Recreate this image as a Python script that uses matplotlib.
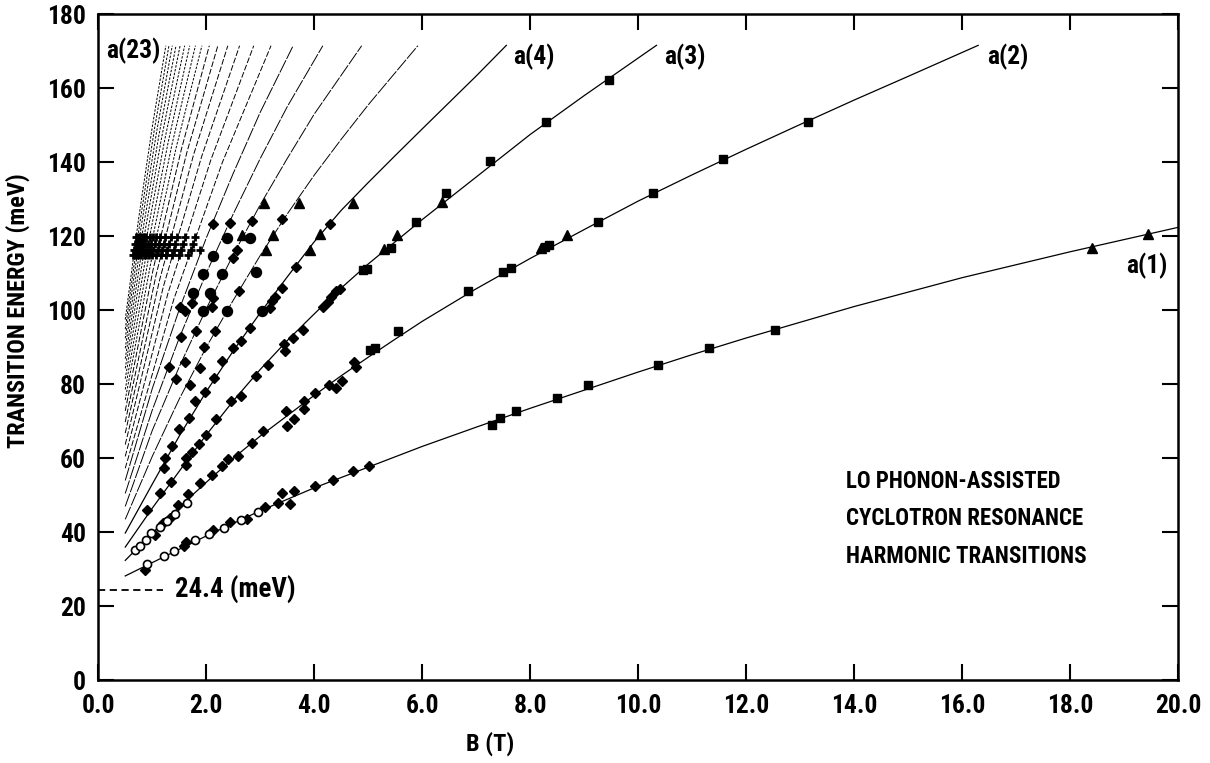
import matplotlib
matplotlib.use("Agg")
import matplotlib.pyplot as plt
from matplotlib import font_manager
from matplotlib.ticker import MultipleLocator, FormatStrFormatter

# pick a narrow bold face if one is installed, otherwise a plain sans
fonts = font_manager.fontManager.ttflist
names = {f.name for f in fonts}
narrow_faces = {'Liberation Sans Narrow': 1.0, 'Roboto Condensed': 0.97, 'Noto Sans Condensed': 0.95,
                'DejaVu Sans Condensed': 0.9, 'Open Sans Condensed': 1.0}
family, FS = 'Liberation Sans', 0.86
for name, scale in narrow_faces.items():
    if name in names:
        family, FS = name, scale
        break
else:
    if any(f.name == 'DejaVu Sans' and f.stretch == 'condensed' for f in fonts):
        family, FS = 'DejaVu Sans', 0.9
        plt.rcParams['font.stretch'] = 'condensed'
plt.rcParams['font.family'] = [family, 'DejaVu Sans']
plt.rcParams['font.weight'] = 'bold'
plt.rcParams['axes.labelweight'] = 'bold'

# --- harmonic curves (B in T, E in meV) ---
a1_B = [0.5, 1.0, 1.5, 2.0, 3.0, 4.0, 5.0, 6.0, 7.0, 8.0, 9.0, 10.0, 11.0, 12.0, 14.0, 16.0, 18.0, 20.0]
a1_E = [28.2, 31.8, 35.4, 39.0, 45.8, 52.0, 57.6, 63.2, 68.4, 73.5, 78.4, 83.3, 88.0, 92.5, 101.0, 108.8, 115.8, 122.4]

a2_B = [0.5, 1, 1.5, 2, 2.5, 3, 3.5, 4, 4.5, 5, 5.5, 6, 7, 8, 9, 10, 11, 12, 13, 14, 15, 16.3]
a2_E = [32.4, 39.8, 46.8, 53.5, 60.0, 66.0, 71.5, 77.0, 82.3, 87.3, 92.2, 97.0, 105.8, 114.0,
        121.8, 129.5, 136.6, 143.5, 150.2, 156.8, 163.2, 171.6]

a3_B = [0.5, 1, 1.5, 2, 2.5, 3, 3.5, 4, 4.5, 5, 5.5, 6, 7, 8, 9, 10.34]
a3_E = [36.0, 46.5, 56.5, 66.3, 75.5, 84.0, 91.8, 99.0, 106.0, 112.5, 118.5, 124.5, 136.0, 147.5, 158.0, 171.6]

a4_B = [0.5, 1, 1.5, 2, 2.5, 3, 3.5, 4, 4.5, 5, 5.5, 6, 7, 7.56]
a4_E = [39.8, 53.0, 66.0, 78.0, 89.0, 99.3, 109.0, 118.5, 127.0, 134.5, 141.8, 149.0, 163.3, 171.6]

# higher harmonics a(5)..a(23)
fan_n = list(range(5, 24))
fan_B = [
    [0.5, 1, 1.5, 2, 2.5, 3, 3.5, 4, 4.5, 5, 5.92],
    [0.5, 1, 1.5, 2, 2.5, 3, 3.5, 4, 4.88],
    [0.5, 1, 1.5, 2, 2.5, 3, 3.5, 4.16],
    [0.5, 1, 1.5, 2, 2.5, 3, 3.61],
    [0.5, 1.4, 2.3, 3.2],
    [0.5, 1.293, 2.087, 2.88],
    [0.5, 1.206, 1.912, 2.618],
    [0.5, 1.133, 1.767, 2.4],
    [0.5, 1.072, 1.644, 2.215],
    [0.5, 1.019, 1.538, 2.057],
    [0.5, 0.973, 1.447, 1.92],
    [0.5, 0.933, 1.367, 1.8],
    [0.5, 0.898, 1.296, 1.694],
    [0.5, 0.867, 1.233, 1.6],
    [0.5, 0.838, 1.177, 1.516],
    [0.5, 0.813, 1.127, 1.44],
    [0.5, 0.79, 1.081, 1.371],
    [0.5, 0.77, 1.04, 1.309],
    [0.5, 0.751, 1.001, 1.252],
]
fan_E = [
    [43.5, 60.5, 76.0, 90.0, 102.7, 114.8, 126.0, 136.5, 146.2, 155.5, 171.5],
    [47.0, 67.5, 84.7, 100.4, 115.0, 128.5, 141.0, 153.0, 171.5],
    [50.5, 73.0, 92.5, 110.0, 126.0, 141.0, 155.0, 171.5],
    [54.0, 78.8, 100.2, 119.5, 137.0, 153.5, 171.5],
    [57.3, 103.0, 140.0, 171.5],
    [60.5, 104.7, 140.7, 171.5],
    [63.7, 106.4, 141.4, 171.5],
    [66.8, 108.0, 142.1, 171.5],
    [69.8, 109.6, 142.8, 171.5],
    [72.8, 111.2, 143.4, 171.5],
    [75.8, 112.8, 144.2, 171.5],
    [78.6, 114.3, 144.9, 171.5],
    [81.5, 115.9, 145.5, 171.5],
    [84.3, 117.5, 146.2, 171.5],
    [86.9, 119.0, 146.9, 171.5],
    [89.7, 120.5, 147.6, 171.5],
    [92.4, 122.1, 148.2, 171.5],
    [94.9, 123.6, 148.9, 171.5],
    [97.5, 125.1, 149.6, 171.5],
]

# --- measured transitions ---
sq_B = [7.3, 7.44, 7.74, 8.5, 9.08, 10.37, 11.31, 12.54,
        5.04, 5.12, 5.56, 6.84, 7.5, 7.64, 8.28, 8.35, 9.26, 10.27, 11.58, 13.15,
        4.91, 4.97, 5.42, 5.88, 6.45, 7.26, 8.3, 9.47]
sq_E = [69.0, 70.9, 72.9, 76.3, 79.7, 85.3, 89.8, 94.7,
        89.2, 89.9, 94.5, 105.2, 110.4, 111.3, 117.2, 117.6, 123.9, 131.7, 140.8, 151.0,
        111.0, 111.2, 116.9, 123.8, 131.8, 140.3, 150.8, 162.3]

tri_B = [3.07, 3.72, 4.72, 2.67, 3.24, 4.11, 3.11, 3.93, 5.3, 5.53, 6.36, 8.2, 8.68, 18.4, 19.44]
tri_E = [129.1, 129.1, 129.1, 120.3, 120.3, 120.5, 116.3, 116.3, 116.5, 120.3, 129.3, 116.8, 120.3, 116.9, 120.6]

dia_B = [0.86, 1.59, 1.62, 2.13, 2.44, 2.75, 3.09, 3.33, 3.41, 3.55, 3.63, 4.01, 4.35, 4.71, 5.02,
         1.05, 1.2, 1.32, 1.47, 1.67, 1.88, 2.1, 2.29, 2.4, 2.58, 2.84, 3.06, 3.47, 3.49, 3.62,
         3.81, 3.81, 4.01, 4.27, 4.4, 4.52, 4.74, 4.78,
         0.9, 1.14, 1.35, 1.62, 1.62, 1.73, 1.86, 1.99, 2.18, 2.46, 2.64, 2.93, 3.15, 3.44, 3.46,
         3.61, 3.8, 4.17, 4.26, 4.32, 4.41, 4.47,
         1.21, 1.24, 1.36, 1.5, 1.69, 1.8, 1.98, 2.14, 2.29, 2.5, 2.64, 2.81, 3.03, 3.18, 3.21,
         3.27, 3.4, 3.67, 4.29,
         1.44, 1.7, 1.88, 1.96, 2.16, 1.31, 1.61, 1.53, 1.81, 1.51, 1.61, 1.73, 2.1, 2.13,
         2.61, 2.49, 2.57, 2.13, 2.44, 2.84, 3.41]
dia_E = [29.9, 36.4, 37.5, 40.6, 42.7, 43.6, 46.7, 47.8, 50.6, 47.6, 51.1, 52.6, 54.1, 56.6, 57.9,
         39.4, 42.5, 43.9, 47.4, 50.3, 53.3, 55.5, 58.0, 59.8, 60.6, 64.2, 67.4, 72.8, 68.7, 70.5,
         73.2, 75.4, 77.7, 79.9, 79.0, 80.8, 86.0, 84.8,
         46.0, 50.5, 53.6, 58.2, 60.0, 61.7, 63.8, 66.2, 70.5, 75.4, 76.8, 82.3, 85.3, 90.8, 88.9,
         92.5, 94.8, 101.0, 102.3, 103.7, 105.1, 105.7,
         57.5, 60.0, 63.3, 67.8, 71.0, 75.4, 78.0, 81.7, 86.2, 89.8, 91.6, 95.2, 99.7, 100.6, 102.5,
         103.7, 106.1, 111.8, 123.2,
         81.3, 79.9, 84.4, 90.0, 94.5, 84.6, 86.0, 92.9, 94.5, 101.0, 99.7, 101.9, 101.0, 103.3,
         105.1, 114.2, 116.3, 123.2, 123.5, 124.1, 124.6]

dot_B = [2.38, 2.81, 2.13, 1.94, 2.3, 2.92, 1.76, 2.07, 1.94, 2.38, 3.03]
dot_E = [119.4, 119.4, 114.8, 109.7, 109.7, 110.3, 104.6, 104.6, 99.7, 99.7, 99.7]

open_B = [0.91, 1.22, 1.41, 1.79, 2.06, 2.33, 2.64, 2.95,
          0.68, 0.77, 0.88, 0.98, 1.14, 1.27, 1.42, 1.64]
open_E = [31.3, 33.5, 34.9, 37.8, 39.6, 41.2, 43.3, 45.6,
          35.1, 36.4, 38.0, 39.7, 41.3, 43.1, 44.9, 47.8]

# small crosses where the high harmonics pass 115-120 meV
plus_E = [119.8, 118.0, 116.3, 114.9]
plus_B = [
    [1.79, 1.61, 1.46, 1.34, 1.24, 1.15, 1.07, 1.01, 0.95, 0.89, 0.85, 0.81, 0.77, 0.73, 0.70],
    [1.75, 1.57, 1.43, 1.31, 1.21, 1.12, 1.05, 0.98, 0.92, 0.87, 0.83, 0.79, 0.75, 0.71, 0.68],
    [1.88, 1.71, 1.54, 1.40, 1.28, 1.18, 1.10, 1.02, 0.96, 0.90, 0.85, 0.81, 0.77, 0.73, 0.70, 0.67],
    [1.67, 1.50, 1.37, 1.25, 1.16, 1.07, 1.00, 0.94, 0.89, 0.84, 0.79, 0.75, 0.72, 0.68, 0.65],
]

LO_ENERGY = 24.4

fig = plt.figure(figsize=(12.1, 7.63), dpi=100)
ax = fig.add_axes([0.0812, 0.1084, 0.8923, 0.8729])

# theory curves
for bb, ee in [(a1_B, a1_E), (a2_B, a2_E), (a3_B, a3_E), (a4_B, a4_E)]:
    ax.plot(bb, ee, color='black', lw=0.9, zorder=2)

for n, bb, ee in zip(fan_n, fan_B, fan_E):
    if n <= 8:
        dash = (14, 1.5)
    elif n <= 14:
        dash = (6, 2)
    else:
        dash = (2.5, 1.5)
    ax.plot(bb, ee, color='black', lw=0.7, dashes=dash, zorder=2)

# LO phonon energy marker
ax.plot([0, 1.2], [LO_ENERGY, LO_ENERGY], color='black', lw=1.3, dashes=(4, 2.5))
ax.text(1.42, LO_ENERGY, '24.4 (meV)', fontsize=20 * FS, ha='left', va='center')

# data points
ax.plot(sq_B, sq_E, 's', color='black', ms=6, ls='none', zorder=3)
ax.plot(tri_B, tri_E, '^', color='black', ms=7.5, ls='none', zorder=3)
ax.plot(dia_B, dia_E, 'D', color='black', ms=5.4, ls='none', zorder=3)
ax.plot(dot_B, dot_E, 'o', color='black', ms=7.2, ls='none', zorder=3)
ax.plot(open_B, open_E, 'o', mfc='white', mec='black', mew=1.2, ms=5.8, ls='none', zorder=4)
for e, bb in zip(plus_E, plus_B):
    ax.plot(bb, [e] * len(bb), '+', color='black', ms=6, mew=2.0, ls='none', zorder=3)

# curve labels
ax.text(0.155, 170, 'a(23)', fontsize=19 * FS, ha='left', va='center')
ax.text(7.68, 168.5, 'a(4)', fontsize=19 * FS, ha='left', va='center')
ax.text(10.49, 168.5, 'a(3)', fontsize=19 * FS, ha='left', va='center')
ax.text(16.47, 168.5, 'a(2)', fontsize=19 * FS, ha='left', va='center')
ax.text(19.04, 112.0, 'a(1)', fontsize=19 * FS, ha='left', va='center')

for txt, e in [('LO PHONON-ASSISTED', 53.6), ('CYCLOTRON RESONANCE', 43.8),
               ('HARMONIC TRANSITIONS', 33.5)]:
    ax.text(13.86, e, txt, fontsize=17 * FS, ha='left', va='center')

# axes
ax.set_xlim(0, 20)
ax.set_ylim(0, 180)
ax.xaxis.set_major_locator(MultipleLocator(2))
ax.xaxis.set_major_formatter(FormatStrFormatter('%.1f'))
ax.yaxis.set_major_locator(MultipleLocator(20))
ax.tick_params(direction='in', length=11.5, width=1.5, top=True, right=True, labelsize=19 * FS)
ax.tick_params(axis='x', pad=10)
ax.tick_params(axis='y', pad=9)
for s in ax.spines.values():
    s.set_linewidth(1.8)

ax.set_xlabel('B (T)', fontsize=18 * FS, fontweight='bold')
ax.set_ylabel('TRANSITION ENERGY (meV)', fontsize=18 * FS, fontweight='bold')
ax.xaxis.set_label_coords(0.363, -0.077)
ax.yaxis.set_label_coords(-0.063, 0.555)

fig.savefig('out.png', dpi=100)
